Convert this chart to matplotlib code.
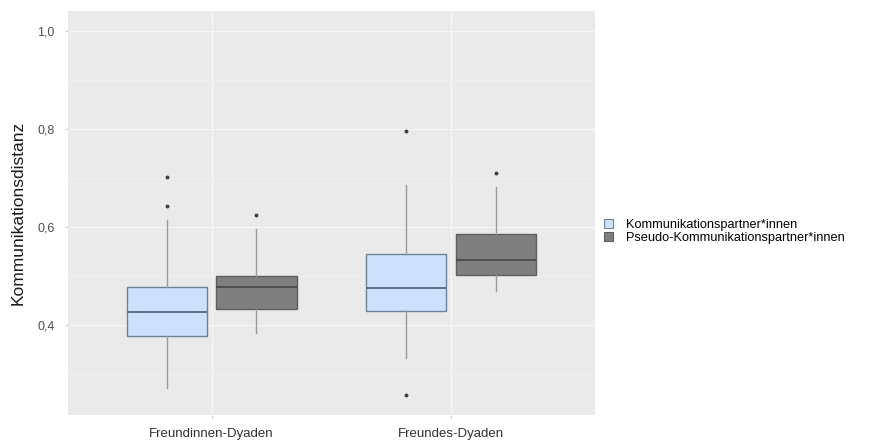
import matplotlib.pyplot as plt
from matplotlib.patches import Patch

plt.rcParams['font.family'] = ['Liberation Sans', 'DejaVu Sans']

groups = ["Freundinnen-Dyaden", "Freundes-Dyaden"]
series = ["Kommunikationspartner*innen", "Pseudo-Kommunikationspartner*innen"]

# box statistics, [Freundinnen, Freundes]
real_whislo = [0.271, 0.333]
real_q1 = [0.378, 0.429]
real_med = [0.427, 0.476]
real_q3 = [0.477, 0.545]
real_whishi = [0.614, 0.686]
real_fliers = [[0.643, 0.703], [0.797, 0.257]]

pseudo_whislo = [0.383, 0.470]
pseudo_q1 = [0.433, 0.502]
pseudo_med = [0.478, 0.532]
pseudo_q3 = [0.501, 0.586]
pseudo_whishi = [0.597, 0.682]
pseudo_fliers = [[0.624], [0.710]]

fills = ["#CCE1FB", "#7F7F7F"]
edges = ["#6E8296", "#5E5E5E"]
medcols = ["#55697D", "#4A4A4A"]


def stats(whislo, q1, med, q3, whishi, fliers):
    out = []
    for i in range(len(med)):
        out.append(dict(whislo=whislo[i], q1=q1[i], med=med[i], q3=q3[i],
                        whishi=whishi[i], fliers=fliers[i]))
    return out


all_stats = [
    stats(real_whislo, real_q1, real_med, real_q3, real_whishi, real_fliers),
    stats(pseudo_whislo, pseudo_q1, pseudo_med, pseudo_q3, pseudo_whishi, pseudo_fliers),
]

fig = plt.figure(figsize=(8.82, 4.41), dpi=100)
ax = fig.add_axes([0.0771, 0.059, 0.597, 0.916])
ax.set_facecolor("#EAEAEA")

offsets = [-0.1875, 0.1875]
for s, st in enumerate(all_stats):
    pos = [i + 1 + offsets[s] for i in range(len(groups))]
    ax.bxp(st, positions=pos, widths=0.335, patch_artist=True,
           showcaps=False, manage_ticks=False,
           boxprops=dict(facecolor=fills[s], edgecolor=edges[s], linewidth=1.0),
           medianprops=dict(color=medcols[s], linewidth=1.3),
           whiskerprops=dict(color="#9A9A9A", linewidth=1.0),
           flierprops=dict(marker="o", markersize=1.8, markerfacecolor="#404040",
                           markeredgecolor="#404040"),
           zorder=3)

ax.set_xlim(0.4, 2.6)
ax.set_ylim(0.2163, 1.041)
ax.set_xticks([1, 2])
ax.set_xticklabels(groups, fontsize=9.5, color="#303030")
ax.set_yticks([0.4, 0.6, 0.8, 1.0])
ax.set_yticklabels(["0,4", "0,6", "0,8", "1,0"], fontsize=9, color="#4D4D4D")
ax.set_yticks([0.3, 0.5, 0.7, 0.9], minor=True)
ax.grid(True, which="major", color="#F5F5F5", linewidth=0.9, zorder=0)
ax.grid(True, which="minor", axis="y", color="#F2F2F2", linewidth=0.5, zorder=0)
ax.set_axisbelow(True)
ax.tick_params(axis="both", which="major", length=2.5, color="#CCCCCC", pad=7)
ax.tick_params(axis="y", which="minor", length=0)
for sp in ax.spines.values():
    sp.set_visible(False)
ax.set_ylabel("Kommunikationsdistanz", fontsize=12.5, color="#1A1A1A")
ax.yaxis.set_label_coords(-0.08, 0.5)

handles = [Patch(facecolor=fills[i], edgecolor=edges[i], linewidth=0.8)
           for i in range(len(series))]
fig.legend(handles, series, loc="upper left", bbox_to_anchor=(0.672, 0.53),
           frameon=False, fontsize=9.2, handlelength=0.7, handleheight=0.7,
           handletextpad=1.0, labelspacing=0.12)

fig.savefig("out.png", dpi=100)
